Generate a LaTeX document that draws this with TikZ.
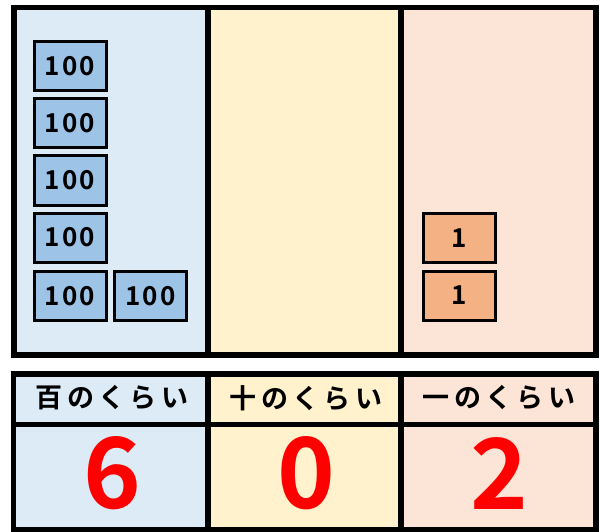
\documentclass[tikz,border=0pt]{standalone}
\usepackage{fontspec}
\newfontfamily\jpfont{Noto Sans CJK JP}[BoldFont={Noto Sans CJK JP Bold}]
\definecolor{pblue}{HTML}{DDEBF7}
\definecolor{pyellow}{HTML}{FFF2CC}
\definecolor{ppeach}{HTML}{FCE4D6}
\definecolor{bblue}{HTML}{9DC3E6}
\definecolor{borange}{HTML}{F4B183}
\definecolor{dred}{HTML}{FF0000}
\tikzset{
  frame/.style={draw=black, line width=5.5pt},
  hundred/.style={draw=black, line width=3pt, fill=bblue, minimum width=72pt, minimum height=49pt, inner sep=0pt,
    font=\jpfont\bfseries\fontsize{26}{26}\selectfont\addfontfeature{LetterSpace=8}},
  oneblk/.style={draw=black, line width=3pt, fill=borange, minimum width=72pt, minimum height=49pt, inner sep=0pt,
    font=\jpfont\bfseries\fontsize{26}{26}\selectfont},
  header/.style={font=\jpfont\bfseries\fontsize{27}{27}\selectfont\addfontfeature{LetterSpace=16}, inner sep=0pt},
  digit/.style={font=\jpfont\bfseries\fontsize{98}{98}\selectfont, text=dred, inner sep=0pt}
}
\begin{document}
\begin{tikzpicture}[x=1pt,y=-1pt]
\useasboundingbox (0,0) rectangle (600,532);
% top panels
\fill[pblue] (14,7.5) rectangle (208,355);
\fill[pyellow] (208,7.5) rectangle (401,355);
\fill[ppeach] (401,7.5) rectangle (596,355);
\draw[frame] (14,7.5) rectangle (596,355);
\draw[frame] (208,7.5) -- (208,355);
\draw[frame] (401,7.5) -- (401,355);
% hundreds blocks
\node[hundred] (h1) at (70,66.5) {100};
\node[hundred] (h2) at (70,123.5) {100};
\node[hundred] (h3) at (70,180.5) {100};
\node[hundred] (h4) at (70,237.5) {100};
\node[hundred] (h5) at (70,296) {100};
\node[hundred] (h6) at (150.5,296) {100};
% ones blocks
\node[oneblk] (o1) at (459,238) {1};
\node[oneblk] (o2) at (459,295.5) {1};
% bottom table
\fill[pblue] (13.5,374) rectangle (208,530);
\fill[pyellow] (208,374) rectangle (401,530);
\fill[ppeach] (401,374) rectangle (596,530);
\draw[frame] (13.5,374) rectangle (596,530);
\draw[frame] (13.5,424.5) -- (596,424.5);
\draw[frame] (208,374) -- (208,530);
\draw[frame] (401,374) -- (401,530);
\node[header] (t1) at (112,398) {百のくらい};
\node[header] (t2) at (306,398) {十のくらい};
\node[header] (t3) at (499,398) {一のくらい};
\node[digit] (d1) at (112,473) {6};
\node[digit] (d2) at (306,473) {0};
\node[digit] (d3) at (499,473) {2};
\end{tikzpicture}
\end{document}
